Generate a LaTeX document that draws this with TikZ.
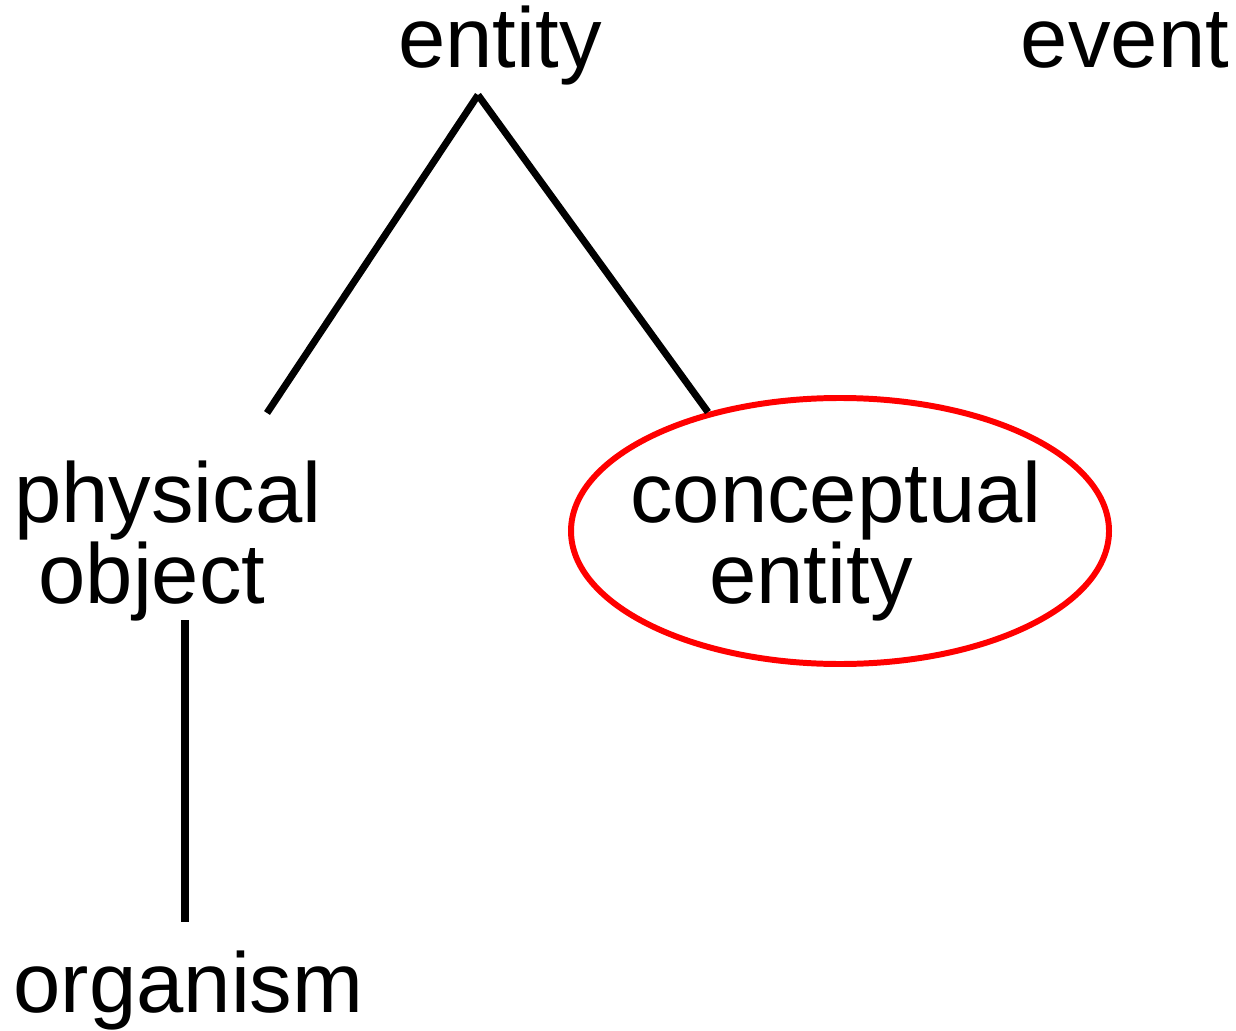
\documentclass[tikz,border=0pt]{standalone}
\usepackage{fontspec}
\setmainfont{Liberation Sans}
\usetikzlibrary{shapes.geometric}
\begin{document}
\begin{tikzpicture}[
        begriff/.style={anchor=base, inner sep=0pt, align=center,
            font=\fontsize{24.2}{23}\selectfont},
        kante/.style={line width=2pt, black},
        oval/.style={ellipse, draw=red, line width=1.7pt, inner sep=0pt,
            minimum width=5.38cm, minimum height=2.66cm}
    ]
        \useasboundingbox (0, 0) rectangle (12.36, -10.31);
        % Begriffe
        \node[begriff] (entity)   at (5.00, -0.68)  {entity};
        \node[begriff] (event)    at (11.25, -0.68) {event};
        \node[begriff] (physical) at (1.68, -6.03)  {physical\\object\kern0.32cm};
        \node[begriff] (concepttext) at (8.36, -6.03) {conceptual\\entity\kern0.5cm};
        \node[begriff] (organism) at (1.885, -10.12) {organism};
        \node[oval]    (concept)  at (8.40, -5.31)  {};
        % Hilfspunkte
        \coordinate (spitze) at (4.78, -0.95);
        \coordinate (links)  at (2.67, -4.13);
        \coordinate (oben)   at (1.85, -6.20);
        \coordinate (unten)  at (1.85, -9.22);
        % Kanten
        \draw[kante] (spitze) -- (links);
        \draw[kante] (spitze) -- (concept.138);
        \draw[kante] (oben) -- (unten);
\end{tikzpicture}
\end{document}
